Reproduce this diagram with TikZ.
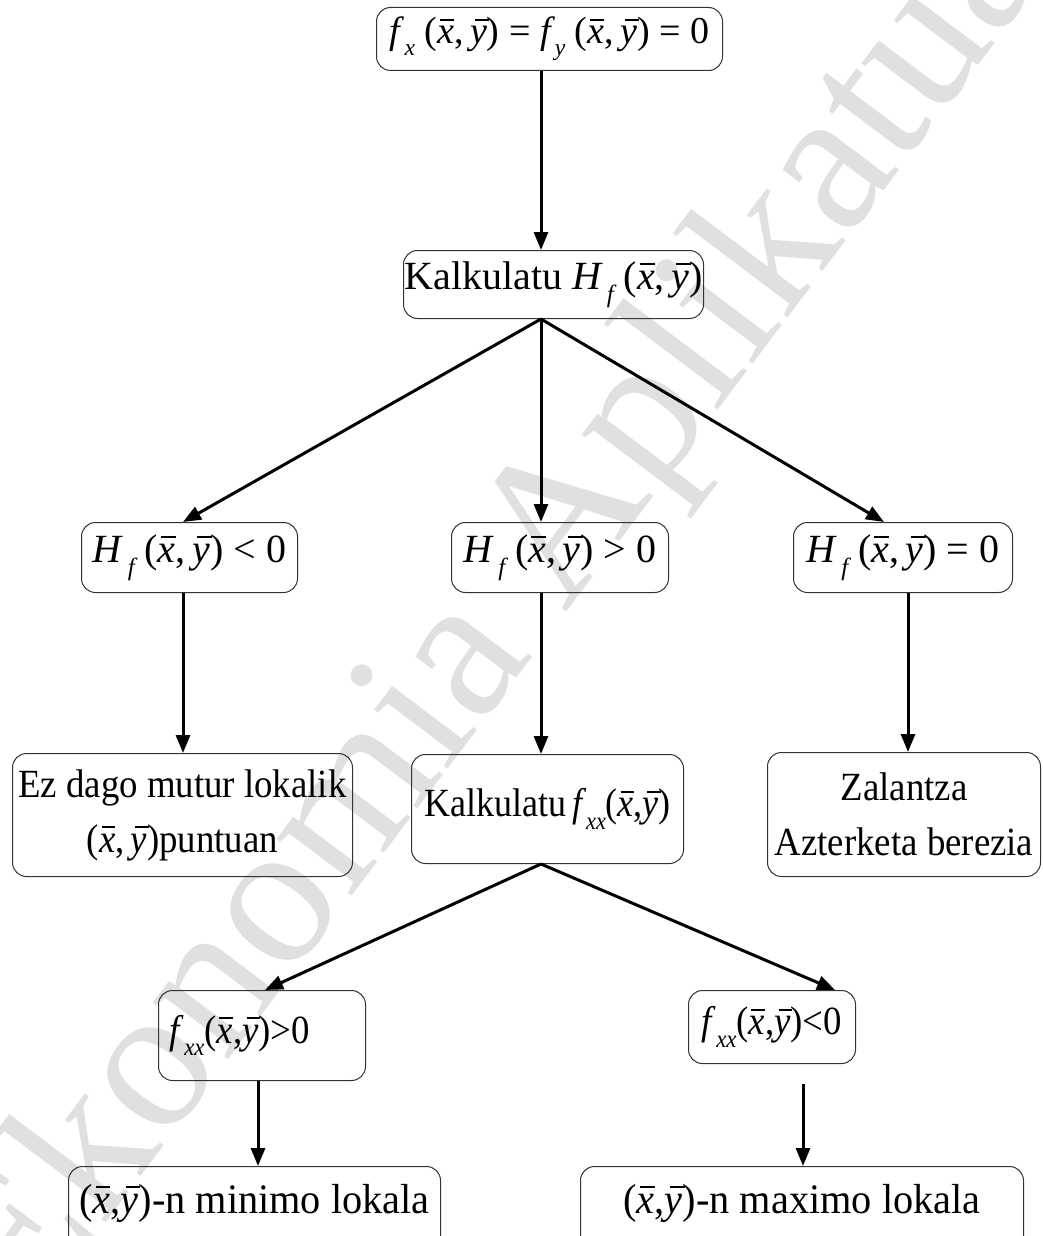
\documentclass[tikz,border=0pt]{standalone}
\usepackage{fontspec}
\setmainfont{Liberation Serif}
\usetikzlibrary{arrows.meta,calc}
\newcommand\xb{\makebox[0pt][l]{\hspace{0.07em}\rule[0.6em]{0.37em}{0.05em}}\textit{x}}
\newcommand\yb{\makebox[0pt][l]{\hspace{0.12em}\rule[0.6em]{0.37em}{0.05em}}\textit{y}}
\newcommand\lsub[1]{\raisebox{-0.32em}{\scalebox{0.62}{\itshape #1}}}
\newcommand\cond[2]{\scalebox{#1}[1]{#2}}
\tikzset{
  fbox/.style={draw=black!80, line width=1pt, rounded corners=14pt, inner sep=0pt,
    anchor=north west, align=center, font=\fontsize{40}{55}\selectfont},
  arr/.style={line width=3pt, -{Triangle[length=18pt,width=14pt]}},
  wmark/.style={text=black!12, font=\fontsize{205}{205}\selectfont, rotate=53, anchor=center}
}
\begin{document}
\begin{tikzpicture}[x=1pt,y=-1pt]
\clip (0,0) rectangle (1043,1236);
\useasboundingbox (0,0) rectangle (1043,1236);
\fill[white] (0,0) rectangle (1043,1236);
\node[wmark] (wm) at (500,618) {Ekonomia Aplikatua};
% boxes
\node[fbox, minimum width=346pt, minimum height=63pt, font=\fontsize{38}{50}\selectfont] (top) at (376,7)
  {\textit{f}\lsub{x}\ (\xb,\,\yb) = \textit{f}\lsub{y}\ (\xb,\,\yb) = 0};
\node[fbox, minimum width=300pt, minimum height=68pt] (H) at (403,250)
  {Kalkulatu \textit{H}\lsub{\,f}\ (\xb,\,\yb)};
\node[fbox, minimum width=216pt, minimum height=70pt] (L3) at (81,522)
  {\textit{H}\lsub{\,f}\ (\xb,\,\yb)\ {<}\ 0};
\node[fbox, minimum width=217pt, minimum height=70pt] (M3) at (451,522)
  {\textit{H}\lsub{\,f}\ (\xb,\,\yb)\ {>}\ 0};
\node[fbox, minimum width=219pt, minimum height=70pt] (R3) at (793,522)
  {\textit{H}\lsub{\,f}\ (\xb,\,\yb)\ =\ 0};
\node[fbox, minimum width=340pt, minimum height=123pt] (L4) at (12,753)
  {\cond{0.92}{Ez dago mutur lokalik}\\\cond{0.92}{(\xb,\,\yb)puntuan}};
\node[fbox, minimum width=272pt, minimum height=109pt] (M4) at (411,754)
  {\cond{0.9}{Kalkulatu\,\textit{f}\lsub{xx}(\xb,\yb)}};
\node[fbox, minimum width=273pt, minimum height=124pt] (R4) at (767,752)
  {\cond{0.92}{Zalantza}\\\cond{0.92}{Azterketa berezia}};
\node[fbox, minimum width=207pt, minimum height=90pt] (L5) at (158,990)
  {\cond{0.92}{\textit{f}\lsub{xx}(\xb,\yb)>0}\hspace{44pt}};
\node[fbox, minimum width=167pt, minimum height=73pt] (R5) at (688,990)
  {\cond{0.92}{\textit{f}\lsub{xx}(\xb,\yb)<0}};
\node[fbox, minimum width=372pt, minimum height=110pt, text depth=46pt, font=\fontsize{42}{50}\selectfont] (L6) at (68,1166)
  {\cond{0.96}{(\xb,\yb)-n minimo lokala}};
\node[fbox, minimum width=443pt, minimum height=110pt, text depth=46pt, font=\fontsize{42}{50}\selectfont] (R6) at (580,1166)
  {\cond{0.96}{(\xb,\yb)-n maximo lokala}};
% x positions of connectors
\coordinate (xa) at (541,0);
\coordinate (xl) at (183,0);
\coordinate (xr) at (908,0);
\coordinate (xrb) at (884,0);
\coordinate (x5l) at (265,0);
\coordinate (x5r) at (835,0);
\coordinate (x6l) at (258,0);
\coordinate (x6r) at (803,0);
% connectors
\draw[arr] (top.south -| xa) -- (H.north -| xa);
\draw[arr] (H.south -| xa) -- (L3.north -| xl);
\draw[arr] (H.south -| xa) -- (M3.north -| xa);
\draw[arr] (H.south -| xa) -- (R3.north -| xrb);
\draw[arr] (L3.south -| xl) -- (L4.north -| xl);
\draw[arr] (M3.south -| xa) -- (M4.north -| xa);
\draw[arr] (R3.south -| xr) -- (R4.north -| xr);
\draw[arr] (M4.south -| xa) -- (L5.north -| x5l);
\draw[arr] (M4.south -| xa) -- (R5.north -| x5r);
\draw[arr] (L5.south -| x6l) -- (L6.north -| x6l);
\draw[arr] ($(R5.south -| x6r)+(0,20)$) -- (R6.north -| x6r);
\end{tikzpicture}
\end{document}
